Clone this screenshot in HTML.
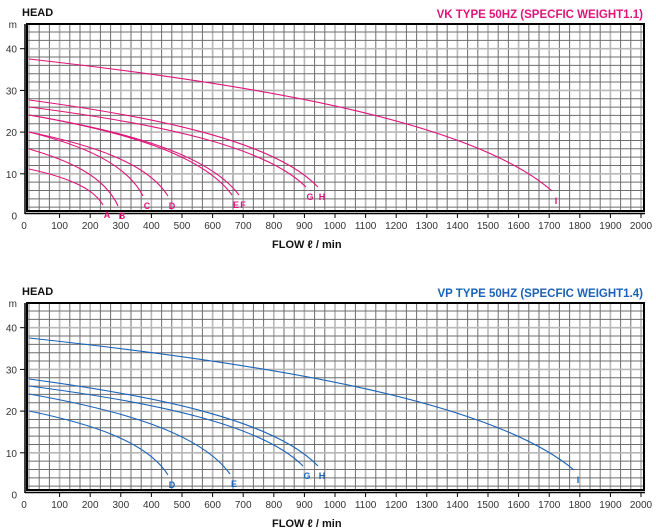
<!DOCTYPE html>
<html><head><meta charset="utf-8"><style>
body{margin:0;background:#fff;width:656px;height:530px;overflow:hidden}
svg{display:block;font-family:"Liberation Sans",sans-serif}
</style></head><body>
<svg id="s" width="656" height="530" xmlns="http://www.w3.org/2000/svg"></svg>
<script>
const s=document.getElementById('s');let h='';
function X(q){return 29+q*0.306}
function chart(o,col,title,curves){
  const Y=v=>o+215.5-v*4.17;
  for(let i=0;i<=60;i++){const x=29+i*10.2;const lt=i%3==0;
    h+=`<line x1="${x}" y1="${o+24}" x2="${x}" y2="${o+211}" stroke="${lt?'#b8b8b8':'#6e6e6e'}" stroke-width="${lt?1.6:1}"/>`;}
  for(let v=2;v<=44;v+=2){const y=Y(v);const lt=v%10==0;
    h+=`<line x1="27" y1="${y}" x2="644" y2="${y}" stroke="${lt?'#b8b8b8':'#6e6e6e'}" stroke-width="${lt?1.6:1}"/>`;}
  h+=`<rect x="27" y="${o+24}" width="617" height="187" fill="none" stroke="#000" stroke-width="2"/>`;
  h+=`<line x1="25" y1="${o+24}" x2="25" y2="${o+214}" stroke="#000" stroke-width="1.5"/>`;
  h+=`<line x1="25" y1="${o+213.5}" x2="645" y2="${o+213.5}" stroke="#000" stroke-width="1.5"/>`;
  for(let v=0;v<=40;v+=10){if(v>0)h+=`<line x1="20" y1="${Y(v)}" x2="25" y2="${Y(v)}" stroke="#000"/>`;
    h+=`<text x="17" y="${Y(v)+4}" font-size="10" fill="#333" text-anchor="end">${v}</text>`;}
  h+=`<text x="17" y="${o+28}" font-size="10" fill="#333" text-anchor="end">m</text>`;
  for(let q=0;q<=2000;q+=100){const x=q==0?24:X(q);if(q>0)h+=`<line x1="${x}" y1="${o+213}" x2="${x}" y2="${o+218}" stroke="#000"/>`;
    h+=`<text x="${x}" y="${o+229}" font-size="10" fill="#333" text-anchor="middle">${q}</text>`;}
  h+=`<text x="22" y="${o+16}" font-size="11" font-weight="bold" fill="#111">HEAD</text>`;
  h+=`<text x="643" y="${o+18}" font-size="11.5" font-weight="bold" fill="${col}" text-anchor="end">${title}</text>`;
  h+=`<text x="272" y="${o+248}" font-size="11" font-weight="bold" fill="#111">FLOW  ℓ  / min</text>`;
  for(const c of curves){const[x0,y0,x1,y1,l]=c;const dx=x1-x0,dy=y1-y0;
    h+=`<path d="M${x0},${o+y0} C${x0+dx*0.45},${o+y0+dy*0.2} ${x0+dx*0.85},${o+y0+dy*0.48} ${x1},${o+y1}" fill="none" stroke="${col}" stroke-width="1.1"/>`;
    h+=`<text x="${x1+4}" y="${o+y1+13}" font-size="9" font-weight="bold" fill="${col}" text-anchor="middle">${l}</text>`;}
}
chart(0,'#e0147a','VK TYPE 50HZ (SPECFIC WEIGHT1.1)',[
 [29,169,103,205,'A'],[29,149,118,206,'B'],[29,132,143,196,'C'],[29,132,168,196,'D'],
 [29,115,232,195,'E'],[29,115,239,195,'F'],[29,107,306,187,'G'],[29,100,318,187,'H'],[29,59,552,191,'I']]);
chart(279,'#1b63b8','VP TYPE 50HZ (SPECFIC WEIGHT1.4)',[
 [29,132,168,196,'D'],[29,115,230,195,'E'],[29,107,303,187,'G'],[29,100,318,187,'H'],[29,59,574,191,'I']]);
s.innerHTML=h;
</script>
</body></html>
